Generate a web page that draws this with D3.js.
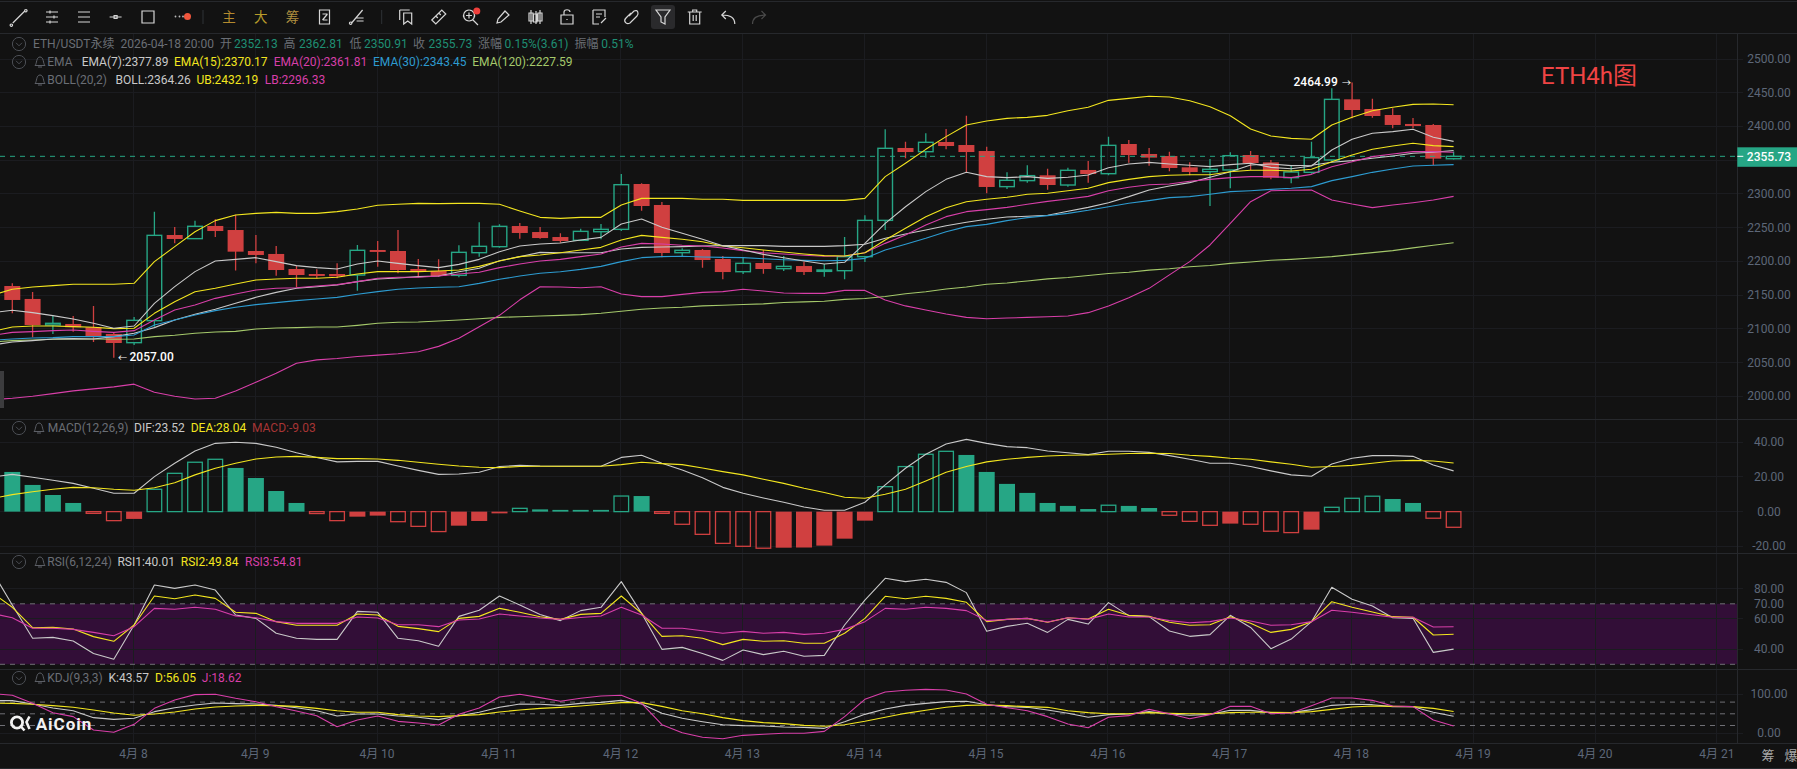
<!DOCTYPE html>
<html>
<head>
<meta charset="utf-8">
<script src="https://cdn.jsdelivr.net/npm/d3@7/dist/d3.min.js"></script>
<style>
html,body{margin:0;padding:0;background:#121212;overflow:hidden}
text{font-family:Roboto,"Noto Sans CJK SC",sans-serif}
</style>
</head>
<body>
<svg id="c" width="1797" height="769"></svg>
<script>
// ---------- candles (4h, 2026-04-07 00:00 → 2026-04-18 20:00) ----------
const opens=[2163.5,2144.3,2105.7,2107.2,2102.3,2092.4,2079.5,2112.1,2239.1,2233.7,2252.5,2246.5,2215.4,2211,2188.7,2181.3,2181.3,2179.8,2216.9,2215.4,2188.7,2185.8,
2179.3,2212.9,2221.8,2252.4,2243.5,2236.1,2231.2,2244,2247.5,2314.7,2283.6,2212.9,2216.9,2203.5,2184.7,2197.6,2189.2,2193.1,2185.2,2186.2,2207,2260.8,
2368.1,2362.6,2377,2372.5,2363.6,2310.8,2319.7,2327.6,2313.2,2335.5,2330,2374,2359.2,2356.2,2339.4,2333,2335.5,2357.7,2346.8,2324.1,
2332,2350.3,2440.2,2425.9,2417,2403.7,2402.2,2352.13];
const highs=[2167.5,2154.6,2119.6,2119,2133.9,2094.4,2117.6,2273.7,2251,2260.4,2262.3,2269.3,2239.1,2222.8,2193.2,2188.2,2197.1,2224.3,2230.2,2246.5,2203.5,2203,
2223.8,2257.9,2254.9,2256.9,2250.9,2241.6,2248.5,2255.4,2329.5,2315.7,2288,2219.3,2218.3,2208,2206,2216.9,2208,2199.6,2196.1,2236.1,2268.2,2395.7,
2377.5,2389.8,2396.2,2416,2370,2332,2342.4,2337.4,2338.9,2348.8,2384.9,2380,2368.1,2362.6,2346.8,2351.8,2361.7,2363.6,2350.3,2341.4,
2377.5,2456.6,2464.99,2441.2,2426.9,2412.6,2403.7,2362.81];
const lows=[2123,2087.4,2092.4,2095.8,2080.5,2057,2076,2103,2226.8,2233.7,2236.2,2186.3,2197.1,2178.8,2161.6,2174.9,2174.9,2156.6,2192.2,2182.3,2176.4,2177.4,
2176.3,2207,2220.3,2233.7,2233.7,2227.7,2231.2,2232.7,2245,2275.2,2206,2208,2190.7,2173.4,2181.3,2181.8,2185.7,2179.8,2177.3,2173.4,2199,2246.5,
2352.8,2353.8,2366.1,2332,2300.9,2307.3,2316.7,2306.3,2310.8,2316.7,2327.6,2346.3,2341.9,2333.5,2327.6,2282.1,2308.3,2335.5,2321.6,2315.7,
2330,2348,2412,2413,2397.3,2397.3,2342.9,2350.91];
const closes=[2142.8,2105.7,2108.2,2102.3,2089.4,2079,2112.6,2238.6,2233.2,2252,2245,2214.4,2209.5,2187.2,2179.8,2178.4,2177.9,2216.4,2214,2187.2,2184.8,2178.4,
2213.4,2222.3,2251.9,2242.1,2234.6,2230.2,2244.5,2247.5,2313.7,2282.1,2212.4,2216.4,2202,2184.2,2197.1,2188.7,2192.6,2184.2,2187.2,2207,2260.8,2367.6,
2362.1,2376.5,2371,2362.1,2310.3,2320.2,2327.1,2313.2,2335,2329.5,2372,2357.7,2353.8,2338.4,2332.5,2336.5,2356.7,2345.8,2324.1,2332.5,
2353.8,2440.2,2424.4,2415.5,2402.2,2400.7,2352.3,2355.73];

// ---------- main-panel lines: first value is the point just left of the first candle ----------
const ema7=[2124,2127.5,2124,2119.6,2114.6,2108.2,2100.8,2104.2,2137.8,2162.5,2184.8,2200.6,2203,2205.5,2199.6,2193.7,2190.7,2188.7,2196.1,2200.6,2197.1,2193.7,2190.7,
2195.6,2203,2214.4,2222.8,2225.8,2227.2,2231.7,2235.6,2255.4,2262.8,2250.5,2241.6,2232.7,2223.3,2216.9,2210.4,2205.5,2200.6,2196.1,2198.6,2226.7,2256.4,
2281,2303.4,2321.6,2332,2325.6,2324.1,2325.6,2323.1,2324.6,2328,2338.9,2344.4,2346.8,2344.4,2342.4,2340.4,2343.4,2345.4,2339.4,2337.4,
2341.4,2365.1,2381,2389.9,2392.3,2395.8,2383.9,2377.89];
const ema15=[2096,2102.8,2104.2,2104.2,2103.3,2102.3,2100.3,2100.8,2123,2140.3,2155.1,2160.1,2166.5,2172.4,2173.9,2174.9,2174.9,2176.4,2181.3,2184.8,2184.8,2184.8,2185.8,
2187.2,2192.6,2200.6,2207,2209.4,2212.9,2216.9,2220.8,2231.7,2238.6,2235.6,2232.7,2229.2,2222.8,2220.3,2216.9,2213.9,2211,2208.5,2208,2212.9,2231.7,
2249,2266.3,2279.6,2288.5,2292,2295,2299.4,2300.9,2304.8,2308.3,2316.7,2321.6,2325.6,2327.6,2328.5,2328.5,2332.9,2335,2335,2334,
2336.5,2347.8,2357.7,2366.1,2371.1,2375,2371.6,2370.17];
const ema20=[2090,2094.8,2095.8,2097.3,2098.3,2096.3,2094.8,2097.3,2113.1,2128,2135.4,2145.2,2151.7,2157.6,2160.1,2161,2163.5,2165.5,2170,2174.9,2176.4,2176.4,2178.4,
2181.3,2183.8,2190.7,2196.1,2200.6,2203,2207,2211,2221.3,2226.7,2225.8,2223.8,2222.8,2219.8,2215.9,2212.9,2211,2209,2207.5,2208,2212.9,2226.7,
2239.1,2253.9,2266.3,2273.7,2276.7,2280.1,2284.6,2289,2292.5,2296.4,2304.8,2309.8,2313.7,2314.7,2318.7,2321.6,2324.1,2325.6,2325.6,2324.1,
2329,2340.4,2347.8,2355.3,2359.2,2362.7,2362.7,2361.81];
const ema30=[2083,2085,2086.5,2087,2088.4,2088.4,2088.4,2090.9,2105.7,2113.1,2120.5,2127,2131.9,2135.9,2138.8,2141.8,2144.3,2146.7,2151.2,2155.1,2158.6,2160.6,2161.6,
2162.5,2167.4,2173.4,2178.3,2182.3,2184.7,2188.2,2192.6,2199.6,2205.5,2207,2207.5,2206.5,2206,2205.5,2204,2202.5,2201.5,2201,2201.5,2204.5,2216.9,
2225.3,2234.2,2244,2251.5,2254.9,2260.4,2264.8,2267.8,2271.2,2275.7,2281.1,2286.1,2290,2294.5,2296,2299.4,2303.4,2304.8,2306.8,2308.3,
2310.8,2319.7,2325.6,2332,2337,2341.4,2342.4,2343.45];
const ema120=[2080.5,2082.5,2083.5,2084.5,2085,2085,2084.5,2085,2088.4,2090.4,2093.4,2095.3,2096.3,2099.8,2101.3,2101.8,2102.8,2102.8,2105.2,2108.2,2109.7,2110.2,2111.6,
2113,2115,2117,2118,2119,2120,2121,2123,2126,2129,2131,2132,2134,2135,2136,2137,2139,2140,2141,2143.7,2145,2148,
2152,2155,2159,2162,2166,2168,2171,2174,2176,2179,2182,2184,2187,2189,2192,2194,2197,2199,2201.6,2203,
2205,2207,2210,2213,2216,2220,2224,2227.59];
const bollMid=[2076,2080.5,2082.5,2085,2085.5,2085,2088.4,2093.4,2101.8,2113.1,2121.5,2129,2137.8,2146.7,2154.1,2160.1,2162.5,2165,2170,2173.9,2175.4,2177.4,2178.4,
2184.7,2189.7,2201,2207,2213.4,2212.9,2212.9,2212.9,2218.3,2220.8,2221.3,2221.8,2222.8,2223.3,2223.3,2223.3,2222.3,2222.3,2222.3,2223.3,2225.3,2234.2,
2240.6,2246.5,2252.9,2257.9,2262.4,2265.8,2266.8,2268.3,2274.2,2280.1,2287,2296,2305.8,2311.8,2316.7,2324.6,2333,2342.9,2344.4,2341.9,
2342.4,2346.9,2349.3,2352.8,2356.3,2360.2,2361.7,2364.26];
const bollUp=[2150,2158.6,2162,2164,2166,2166,2166,2167.5,2199.6,2221.8,2244,2260.4,2268.8,2271.2,2272.7,2271.2,2271.2,2273.7,2277.7,2283.1,2284.6,2286,2285.6,
2286,2286,2284.6,2274.7,2265.3,2263.8,2265.3,2265.3,2283.6,2293.4,2293.4,2293.4,2292,2292,2290.5,2290.5,2290.5,2290.5,2290.5,2290.5,2293.4,2325.6,
2345.4,2366.1,2384.9,2402.2,2408.1,2412,2413.5,2416.5,2423.4,2428.4,2438.7,2441.7,2444.7,2443.7,2438.2,2429.3,2416,2396.2,2385.9,2382.4,
2381,2402.2,2413.6,2423.4,2428.4,2432.8,2433.3,2432.19];
const bollLow=[1995,1997,2000,2004,2008,2011,2014,2018,2006,2000,1996,1997,2008,2021,2034,2049,2054,2056,2059,2061,2063,2066,2074,
2086,2103,2120,2143,2162.5,2162,2161,2162.5,2151.6,2147.7,2147.7,2151.1,2154.1,2155.1,2158.6,2156.1,2153.1,2152.6,2152.6,2157,2157,2142.7,
2134,2128,2122,2117,2115,2116,2117,2118,2119,2124,2134,2146,2160,2180,2199.6,2224.3,2256.4,2288.5,2304.8,2305.4,
2305.8,2291,2285,2279.7,2283.6,2287,2291,2296.33];

// ---------- MACD ----------
const macdHist=[22.9,15.4,9.6,5,-1,-5.2,-4.2,12.9,22.1,28.5,30.2,25.2,19.4,11.9,5,-1.1,-5.2,-2.9,-2.3,-5.8,-8.5,-11.5,-8.1,-5.4,-1,1.9,1.3,1,1,1,9,9,
-1,-7.3,-13.1,-18.3,-20,-21.1,-20.8,-20.7,-19.6,-15.6,-5.2,14.4,26,33.1,34.8,32.7,22.9,16,10.8,5,3.3,1.5,3.7,3.3,2.1,-2.1,-5.6,-7.9,-6.9,-7.3,-11.3,-12.1,-10.4,2.5,7.7,8.9,7.3,5,-3.8,-9.03];
const macdDif=[20,21.5,19.8,18.1,16.3,13.5,10.6,10.6,20.2,27.9,35,39.4,40,39.4,37.1,34,31.2,28.7,29,29,26.3,23.8,21.5,21.7,22.7,26,26.7,26.3,26.2,26.2,26.2,31.3,32.5,
27.9,24,19.6,14,10.6,7.9,5.4,2.7,0.8,0.8,5.4,15.4,25,33.1,39,41.7,39.4,37.5,36.9,35,34,32.9,34.8,34.8,34.2,32.3,30.2,27.9,27.9,26,23.5,21.2,20.4,27.5,30.8,32.3,32.3,31.9,26.9,23.52];
const macdDea=[7.5,9.8,11.5,12.9,14,13.8,12.9,12.3,13.8,16.7,21.2,25,27.9,30.4,31.5,31.9,31.3,30.6,30.6,30.4,29.6,28.5,27.3,26.3,25.6,25.4,26,26.2,26.2,26.2,26.2,27.1,28.5,
27.7,27.1,25.2,23.1,21.2,18.7,16.3,13.5,11,8.3,7.7,10,12.9,17.7,22.7,26,28.7,30.2,31.3,32.1,32.5,32.7,33.1,33.5,33.7,33.5,32.5,31.9,30.8,30.2,28.7,27.3,25.6,26,26.7,27.9,29.2,29.6,29.2,28.04];

// ---------- RSI ----------
const rsi1=[91.7,69.2,47.2,47.8,45.4,37.2,33.3,56,82.4,80.2,82.4,79.1,62.6,60.4,50.5,47.2,46.5,46.5,65,64.4,47.2,45.6,41.9,61.7,65.7,75.2,69.2,63,58.9,65.5,67.7,84.7,63.7,39.9,41.2,
37.2,32.6,39.5,36.4,38.6,35.3,35.9,56,72.5,86.9,84.7,86.2,84.2,77.4,51.8,55.1,57.1,51.1,59.7,56.6,70.8,62.2,61.5,52,48.5,49.6,62.4,54.4,40.3,46.7,58.2,80.9,73,68.6,60.8,60.4,37.9,40.01];
const rsi2=[77.4,67.7,54.2,54.4,53.3,48.3,45.2,56,75.2,73.4,75.8,73.6,64.4,63.7,58.2,55.8,55.8,55.8,63.3,62.6,55.1,53.6,51.6,60.4,61.7,67,64.4,61.5,59.7,63,63.7,75.2,63.7,48.5,48.9,
47.2,43,46.5,45.2,45.6,43.9,43.9,50.5,60.4,75,73.4,75,73.6,71,58.2,59.7,60.4,57.8,60.8,60,66.4,62.4,61.7,57.8,55.8,56.2,61.5,57.1,51.1,53.1,58.2,71.4,67.7,64.6,61.5,61.1,49.4,49.84];
const rsi3=[63.7,60.8,53.8,53.8,53.1,51.1,48.9,54.9,67,66.4,67.7,66.4,61.9,60.8,58.2,57.1,57.1,57.1,61.3,60.6,56.2,56.2,54.9,59.3,60,63.3,61.9,60.6,59.7,61,61.9,67.7,62.6,53.8,53.8,
52.2,50.5,51.8,50.5,51.1,49.8,50.5,53.1,58.2,67,66.4,67.7,67,65.5,58.9,59.7,60.4,58,60.8,59.7,63.3,61.3,61.3,58.9,57.5,58.2,60.6,58.6,55.8,56.2,58.2,65.7,64.4,62.8,61.1,61.1,54.7,54.81];

// ---------- KDJ ----------
const kdjK=[84,83.7,75.1,64.9,58,40.1,35.8,38.4,55.5,65.7,72.6,77.7,76,75.1,71.7,65.7,58,44.4,49.5,49.5,44.4,41,35,45.2,53.8,66.6,75.1,74.3,71.7,76.8,79.4,84.5,75.1,51.2,38.4,
29.8,22.1,19.6,18.7,16.2,15.3,12.7,29.8,48.6,62.3,71.7,76.8,81.1,82,73.4,68.3,66.6,59.7,51.2,41,47.8,49.5,55.5,49.5,46.1,48.6,58.9,58.9,52.9,52.9,60.6,71.7,74.3,73.4,68.3,68.3,53.8,43.57];
const kdjD=[77,76.8,74.3,70.9,66.6,59.7,52,46.1,49.5,54.6,62.3,67.4,70,71.7,70.9,69.1,64,58,53.8,53.8,47.8,44.4,42.7,45.2,47.8,54.6,59.7,64,66.6,70,74.3,78.6,78.6,69.1,58,
50.3,40.1,32.4,27.3,24.7,20.4,17.9,22.1,30.7,41,51.2,58.9,66.6,71.7,72.6,70.9,68.3,66.6,58,52.9,50.3,50.3,52.9,51.2,50.3,50.3,52.9,53.8,53.8,52.9,55.5,61.4,67.4,70,69.1,68.3,64,56.05];
const kdjJ=[102,97.4,76.8,52.9,42.7,8.5,2.5,23,64,85.4,99.1,100,89.7,81.1,68.3,57.2,45.2,17,34.1,44.4,30.7,26.4,21.3,48.6,64.9,93.1,100,91.4,82,89.7,95.6,97.4,76.8,22.1,1.6,
-10.3,-13.8,-5.2,-2.6,0,0,5,42.7,87.1,105.9,110.2,112.7,111,100.8,74.3,65.7,58,42.7,23.9,14.4,41,45.2,61.4,50.3,37.5,47.8,69.1,69.1,50.3,52,70.9,90.5,90.5,84.5,70,68.3,34.2,18.62];

// ---------- axes ----------
const dayLabels=["4月 8","4月 9","4月 10","4月 11","4月 12","4月 13","4月 14","4月 15","4月 16","4月 17","4月 18","4月 19","4月 20","4月 21"];
const priceTicks=[2500,2450,2400,2350,2300,2250,2200,2150,2100,2050,2000];
const macdTicks=[40,20,0,-20];
const rsiTicks=[80,70,60,40];
const kdjTicks=[100,0];
const lastPrice=2355.73;

const BG="#121212",GRID="#1b1c20",SEP="#26282c",AXIS="#5d6778",UP="#26a685",DOWN="#d04040",
      WHITE="#c9c9c9",YEL="#f3e61f",MAG="#d83fa9",BLUE="#2d9bd0",LIME="#a5c96b",DIM="#6a6e75";

const svg=d3.select("#c");
svg.append("rect").attr("width",1797).attr("height",769).attr("fill",BG);
const plotR=1737.3;

const x=d3.scaleLinear().domain([0,71]).range([12.3,1453.6]);
const yP=d3.scaleLinear().domain([2000,2500]).range([396.3,59]);
const yM=d3.scaleLinear().domain([-20,40]).range([546.3,442.3]);
const yR=d3.scaleLinear().domain([30,80]).range([664.3,588.7]);
const yK=d3.scaleLinear().domain([0,100]).range([733.3,694.3]);

const panels=[{id:"pm",y0:33,y1:419.3},{id:"pa",y0:419.3,y1:553},{id:"pr",y0:553,y1:669},{id:"pk",y0:669,y1:743}];
const defs=svg.append("defs");
panels.forEach(p=>defs.append("clipPath").attr("id",p.id).append("rect").attr("x",0).attr("y",p.y0).attr("width",plotR).attr("height",p.y1-p.y0));

// RSI band
const gBack=svg.append("g");
gBack.append("rect").attr("x",0).attr("width",plotR).attr("y",yR(70)).attr("height",yR(30)-yR(70)).attr("fill","#320e37");

// grid
const gGrid=svg.append("g").attr("stroke",GRID).attr("stroke-width",1).attr("shape-rendering","crispEdges");
dayLabels.forEach((_,k)=>{const px=x(6+6*k)-0.7;gGrid.append("line").attr("x1",px).attr("x2",px).attr("y1",33).attr("y2",743);});
function hgrid(vals,sc){vals.forEach(v=>gGrid.append("line").attr("x1",0).attr("x2",plotR+6).attr("y1",sc(v)).attr("y2",sc(v)));}
hgrid(priceTicks,yP);hgrid(macdTicks,yM);hgrid([80,60,40],yR);hgrid(kdjTicks,yK);

// separators
const gSep=svg.append("g").attr("stroke",SEP).attr("shape-rendering","crispEdges");
[1,33,419.3,553,669,743,768].forEach(y=>gSep.append("line").attr("x1",0).attr("x2",1797).attr("y1",y).attr("y2",y));
gSep.append("line").attr("x1",plotR).attr("x2",plotR).attr("y1",33).attr("y2",743);

// dashed guides
const gDash=svg.append("g").attr("stroke","#6f6f75").attr("stroke-dasharray","5,5").attr("stroke-width",1);
[[yR,70],[yR,30],[yK,80],[yK,50],[yK,20]].forEach(([s,v])=>gDash.append("line").attr("x1",0).attr("x2",plotR).attr("y1",s(v)).attr("y2",s(v)));

// candles
const idx=d3.range(72);
const gC=svg.append("g").attr("clip-path","url(#pm)");
gC.selectAll("line").data(idx).join("line")
  .attr("x1",i=>x(i)).attr("x2",i=>x(i))
  .attr("y1",i=>yP(highs[i])).attr("y2",i=>closes[i]>=opens[i]?yP(Math.max(opens[i],closes[i])):yP(lows[i]))
  .attr("stroke",i=>closes[i]>=opens[i]?UP:DOWN).attr("stroke-width",1.3);
gC.selectAll("line.lw").data(idx.filter(i=>closes[i]>=opens[i])).join("line").attr("class","lw")
  .attr("x1",i=>x(i)).attr("x2",i=>x(i)).attr("y1",i=>yP(opens[i])).attr("y2",i=>yP(lows[i]))
  .attr("stroke",UP).attr("stroke-width",1.3);
gC.selectAll("rect").data(idx).join("rect")
  .attr("x",i=>x(i)-(closes[i]>=opens[i]?7.3:8)).attr("width",i=>closes[i]>=opens[i]?14.6:16)
  .attr("y",i=>yP(Math.max(opens[i],closes[i]))).attr("height",i=>Math.max(1,Math.abs(yP(opens[i])-yP(closes[i]))))
  .attr("fill",i=>closes[i]>=opens[i]?"none":DOWN).attr("stroke",i=>closes[i]>=opens[i]?UP:"none").attr("stroke-width",1.4);

// line helper: array position k belongs to candle k-1
function lineOf(g,arr,sc,col,w){
  g.append("path").datum(arr).attr("fill","none").attr("stroke",col).attr("stroke-width",w||1.1).attr("stroke-linejoin","round")
   .attr("d",d3.line().x((d,k)=>x(k-1)).y(d=>sc(d)));
}
// current price line under the indicators
svg.append("line").attr("x1",0).attr("x2",plotR).attr("y1",yP(lastPrice)).attr("y2",yP(lastPrice))
   .attr("stroke",UP).attr("stroke-dasharray","5,5").attr("stroke-width",1);
const gL=svg.append("g").attr("clip-path","url(#pm)");
[[ema120,LIME],[bollLow,MAG],[bollUp,YEL],[bollMid,WHITE],[ema30,BLUE],[ema20,MAG],[ema15,YEL],[ema7,WHITE]].forEach(([a,c])=>lineOf(gL,a,yP,c));

// MACD
const gM=svg.append("g").attr("clip-path","url(#pa)");
gM.selectAll("rect").data(idx).join("rect")
  .each(function(i){
    const v=macdHist[i],prev=i?macdHist[i-1]:v+1,hollow=v>=0?v>prev:v<prev,col=v>=0?UP:DOWN;
    const top=yM(Math.max(v,0)),h=Math.abs(yM(v)-yM(0));
    d3.select(this).attr("x",x(i)-(hollow?7.3:8)).attr("width",hollow?14.6:16).attr("y",top).attr("height",Math.max(h,1))
      .attr("fill",hollow?"none":col).attr("stroke",hollow?col:"none").attr("stroke-width",1.3);
  });
lineOf(gM,macdDif,yM,WHITE);lineOf(gM,macdDea,yM,YEL);

// RSI & KDJ
const gR=svg.append("g").attr("clip-path","url(#pr)");
lineOf(gR,rsi1,yR,WHITE);lineOf(gR,rsi2,yR,YEL);lineOf(gR,rsi3,yR,MAG);
const gK=svg.append("g").attr("clip-path","url(#pk)");
lineOf(gK,kdjK,yK,WHITE);lineOf(gK,kdjD,yK,YEL);lineOf(gK,kdjJ,yK,MAG);

// axis labels
const gA=svg.append("g").attr("fill",AXIS).attr("font-size",12).attr("text-anchor","middle");
function axisLabels(vals,sc){vals.forEach(v=>{if(v===2350)return;gA.append("text").attr("x",1769).attr("y",sc(v)+4).text(v.toFixed(2));});}
axisLabels(priceTicks,yP);axisLabels(macdTicks,yM);axisLabels(rsiTicks,yR);axisLabels(kdjTicks,yK);
dayLabels.forEach((t,k)=>gA.append("text").attr("x",x(6+6*k)-0.7).attr("y",758).text(t));
svg.append("text").attr("x",1768).attr("y",760).attr("text-anchor","middle").attr("font-size",13).attr("fill","#a8a8a8").text("筹");
svg.append("text").attr("x",1791).attr("y",760).attr("text-anchor","middle").attr("font-size",13).attr("fill","#a8a8a8").text("爆");

// last price tag
svg.append("rect").attr("x",plotR).attr("y",147.3).attr("width",60).attr("height",19.5).attr("fill",UP);
svg.append("line").attr("x1",plotR).attr("x2",plotR+6).attr("y1",yP(lastPrice)).attr("y2",yP(lastPrice)).attr("stroke","#fff");
svg.append("text").attr("x",1769).attr("y",yP(lastPrice)+4.3).attr("text-anchor","middle").attr("font-size",12).attr("font-weight",500).attr("fill","#fff").text(lastPrice.toFixed(2));

// title note + extremes
svg.append("text").attr("x",1541).attr("y",84).attr("font-size",24).attr("fill","#ef4444").text("ETH4h图");
svg.append("text").attr("x",118).attr("y",361).attr("font-size",9).attr("fill","#fff").text("←");
svg.append("text").attr("x",129.5).attr("y",361).attr("font-size",12).attr("font-weight",500).attr("fill","#fff").text("2057.00");
svg.append("text").attr("x",1293.5).attr("y",86).attr("font-size",12).attr("font-weight",500).attr("fill","#fff").text("2464.99");
svg.append("text").attr("x",1342).attr("y",86).attr("font-size",9).attr("fill","#fff").text("→");

// header rows
function chev(cx,cy){
  svg.append("circle").attr("cx",cx).attr("cy",cy).attr("r",6.6).attr("fill","none").attr("stroke","#4b4e54");
  svg.append("path").attr("d",`M${cx-3} ${cy-1.2}L${cx} ${cy+1.8}L${cx+3} ${cy-1.2}`).attr("fill","none").attr("stroke","#4b4e54");
}
function bell(cx,cy){
  svg.append("path").attr("d",`M${cx-5} ${cy+3.5}C${cx-3} ${cy+2} ${cx-4} ${cy-5} ${cx} ${cy-5}C${cx+4} ${cy-5} ${cx+3} ${cy+2} ${cx+5} ${cy+3.5}ZM${cx-2} ${cy+5}H${cx+2}`).attr("fill","none").attr("stroke","#5c5f66");
}
function txt(xp,yp,s,c,w){svg.append("text").attr("x",xp).attr("y",yp).attr("font-size",12).attr("fill",c).attr("font-weight",w||400).text(s);}
const G="#1f8f74";
chev(19,44);chev(19,62);bell(40,62);bell(40,80);chev(19,428);bell(39,428);chev(19,562);bell(40,562);chev(19,678);bell(40,678);
[[33,"ETH/USDT永续",DIM],[120.5,"2026-04-18 20:00",DIM],[220,"开",DIM],[234,"2352.13",G],[283.5,"高",DIM],[299,"2362.81",G],[349.5,"低",DIM],[364,"2350.91",G],[413,"收",DIM],[428.6,"2355.73",G],[478,"涨幅",DIM],[504.5,"0.15%(3.61)",G],[574.5,"振幅",DIM],[601.3,"0.51%",G]].forEach(d=>txt(d[0],48,d[1],d[2]));
[[47.3,"EMA",DIM],[81.7,"EMA(7):2377.89",WHITE],[174,"EMA(15):2370.17",YEL],[273.7,"EMA(20):2361.81",MAG],[373,"EMA(30):2343.45",BLUE],[472.3,"EMA(120):2227.59",LIME]].forEach(d=>txt(d[0],66,d[1],d[2]));
[[47.3,"BOLL(20,2)",DIM],[115.6,"BOLL:2364.26",WHITE],[196.4,"UB:2432.19",YEL],[264.7,"LB:2296.33",MAG]].forEach(d=>txt(d[0],84,d[1],d[2]));
[[47.7,"MACD(12,26,9)",DIM],[134,"DIF:23.52",WHITE],[190.7,"DEA:28.04",YEL],[252,"MACD:-9.03","#a83535"]].forEach(d=>txt(d[0],432,d[1],d[2]));
[[47.3,"RSI(6,12,24)",DIM],[117.4,"RSI1:40.01",WHITE],[180.8,"RSI2:49.84",YEL],[245,"RSI3:54.81",MAG]].forEach(d=>txt(d[0],566,d[1],d[2]));
[[47.3,"KDJ(9,3,3)",DIM],[108.5,"K:43.57",WHITE],[155,"D:56.05",YEL],[201.8,"J:18.62",MAG]].forEach(d=>txt(d[0],682,d[1],d[2]));

// left-edge collapse handle
svg.append("rect").attr("x",0).attr("y",371).attr("width",4).attr("height",37).attr("fill","#3c3c3e");

// watermark
svg.append("circle").attr("cx",17).attr("cy",722.5).attr("r",5.6).attr("fill","none").attr("stroke","#f2f2f2").attr("stroke-width",2.8);
svg.append("path").attr("d","M20 725.5L24.5 730.5M29.5 716.5L26.5 722L29.5 729").attr("fill","none").attr("stroke","#f2f2f2").attr("stroke-width",2.6);
svg.append("text").attr("x",35.7).attr("y",730).attr("font-size",17).attr("font-weight",700).attr("letter-spacing",1).attr("fill","#f2f2f2").text("AiCoin");

// toolbar
const cy=17;
svg.append("rect").attr("x",651).attr("y",5).attr("width",24).attr("height",24).attr("rx",3).attr("fill","#2a2a2c");
const gT=svg.append("g").attr("fill","none").attr("stroke","#d6d6d6").attr("stroke-width",1.2);
const toolIcons=[
 [18.8,"M-6 6L6 -6M-7.5 7a1.2 1.2 0 1 0 .1 0M7 -7.5a1.2 1.2 0 1 0 .1 0"],
 [52,"M-6 -5H6M-6 0H6M-6 5H6M-2 -6.5V-3.5M2 -1.5V1.5M-2 3.5V6.5"],
 [84,"M-6 -5H6M-6 0H6M-6 5H6"],
 [115.6,"M-6 0H6M-1.5 -1.5H1.5V1.5H-1.5Z"],
 [148,"M-6 -6H6V6H-6Z"],
 [324.5,"M-5 -7H5V7H-5ZM-2 3L3 -3M-2 -3H3M-2 3H3"],
 [357.6,"M-6 6L5 -7M-1 4H6M-1 1H6M-7 5a1.2 1.2 0 1 0 .1 0"],
 [406.7,"M-7 -7H3M-3 -4H5V7L1 4L-3 7Z M-7 -7V3"],
 [438.8,"M-7 3L3 -7L7 -3L-3 7ZM-3 -1L-1 1M0 -4L2 -2"],
 [471,"M-2 -7a5.5 5.5 0 1 0 .1 0M2 3L7 8M-5 -1.5H1M-2 -4.5V1.5"],
 [503,"M-6 6L-5 2L2 -6L6 -2L-2 5Z"],
 [535,"M-6 -4H-2V4H-6ZM-1.5 -3H2V5H-1.5ZM3 -4H7V4H3ZM-4 -7V7M1 -6V7M5 -7V7"],
 [567,"M-6 -2H6V7H-6ZM-3 -2V-5C-3 -8 3 -8 3 -5M0 2V3"],
 [599,"M-6 -7H6V0M-6 -7V7H0M-3 -3H3M-3 0H1M2 6L7 1"],
 [631,"M-2 -1L3 -6C7 -8 8 -3 6 -1L-1 6C-5 8 -8 4 -5 1L0 -4"],
 [663,"M-7 -7H7L2 0V7L-2 5V0Z"],
 [694.7,"M-5 -5V7H5V-5ZM-7 -5H7M-2 -5V-7H2V-5M-1.5 -2V4M1.5 -2V4"],
 [727.8,"M7 7C7 1 3 -2 -6 -2M-2 -6L-6 -2L-2 2"]
];
toolIcons.forEach(([xp,d])=>gT.append("path").attr("transform",`translate(${xp},${cy})`).attr("d",d));
gT.append("path").attr("transform",`translate(759.5,${cy})`).attr("d","M-7 7C-7 1 -3 -2 6 -2M2 -6L6 -2L2 2").attr("stroke","#4a4a4a");
[[175.5,16.5],[179.5,16.5],[183,16.5]].forEach(p=>svg.append("circle").attr("cx",p[0]).attr("cy",p[1]).attr("r",0.9).attr("fill","#bbb"));
svg.append("circle").attr("cx",187.5).attr("cy",16.5).attr("r",3.5).attr("fill","#f0563c");
svg.append("circle").attr("cx",476.8).attr("cy",11).attr("r",3.5).attr("fill","#f0403c");
[203,381.7].forEach(p=>svg.append("line").attr("x1",p).attr("x2",p).attr("y1",10).attr("y2",24).attr("stroke","#2e3236"));
[[229,"主","#b48a2e"],[260.7,"大","#b89b2a"],[292.4,"筹","#b09040"]].forEach(d=>svg.append("text").attr("x",d[0]).attr("y",22).attr("text-anchor","middle").attr("font-size",13.5).attr("fill",d[2]).text(d[1]));
</script>
</body>
</html>
